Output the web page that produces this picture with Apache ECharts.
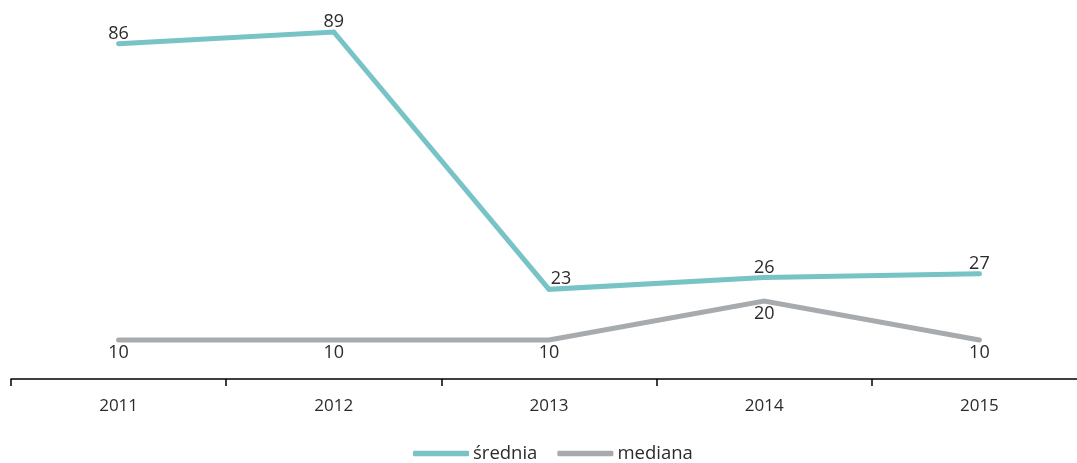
<!DOCTYPE html>
<html>
<head>
<meta charset="utf-8">
<style>
  html, body { margin: 0; padding: 0; background: #fff; }
  #chart { width: 1077px; height: 463px; }
</style>
<script src="https://cdn.jsdelivr.net/npm/echarts@6/dist/echarts.min.js"></script>
</head>
<body>
<div id="chart"></div>
<script>
// Years on the x axis
const years = ['2011', '2012', '2013', '2014', '2015'];
// Mean and median values per year
const srednia = [86, 89, 23, 26, 27];
const mediana = [10, 10, 10, 20, 10];
const seriesNames = ['średnia', 'mediana'];

const FONT = '"Open Sans", "Noto Sans", sans-serif';
const TEXT = '#2b2b2b';
const TEAL = '#77c3c6';
const GREY = '#a8abae';

const chart = echarts.init(document.getElementById('chart'), null, { renderer: 'canvas' });

chart.setOption({
  animation: false,
  backgroundColor: '#ffffff',
  textStyle: { fontFamily: FONT },
  grid: { left: 11, width: 1076, top: 0, bottom: 84, containLabel: false, outerBoundsMode: 'none' },
  legend: {
    data: seriesNames,
    bottom: -5,
    left: 408,
    icon: 'roundRect',
    itemWidth: 56,
    itemHeight: 5.5,
    itemGap: 20,
    textStyle: { fontFamily: FONT, fontSize: 18.5, color: TEXT, padding: [0, 0, 0, -1] }
  },
  xAxis: {
    type: 'category',
    data: years,
    boundaryGap: true,
    axisLine: { lineStyle: { color: '#000', width: 1.5 } },
    axisTick: { show: true, length: 7, lineStyle: { color: '#000', width: 1.5 } },
    axisLabel: { fontFamily: FONT, fontSize: 17, color: TEXT, margin: 19 }
  },
  yAxis: {
    type: 'value',
    min: 0,
    max: 97.2,
    show: false,
    splitLine: { show: false }
  },
  series: [
    {
      name: seriesNames[0],
      type: 'line',
      data: srednia.map((v, i) => i === 2
        ? { value: v, label: { offset: [12, 0] } }
        : v),
      // small dot in the line colour, hidden under the stroke
      symbol: 'circle',
      symbolSize: 4,
      showSymbol: true,
      itemStyle: { color: TEAL },
      lineStyle: { color: TEAL, width: 5, cap: 'round', join: 'miter' },
      label: {
        show: true,
        position: 'top',
        distance: -1,
        fontFamily: FONT,
        fontSize: 18,
        color: TEXT
      }
    },
    {
      name: seriesNames[1],
      type: 'line',
      data: mediana,
      symbol: 'circle',
      symbolSize: 4,
      showSymbol: true,
      itemStyle: { color: GREY },
      lineStyle: { color: GREY, width: 5, cap: 'round', join: 'miter' },
      label: {
        show: true,
        position: 'bottom',
        distance: 2,
        fontFamily: FONT,
        fontSize: 18,
        color: TEXT
      }
    }
  ]
});
</script>
</body>
</html>
